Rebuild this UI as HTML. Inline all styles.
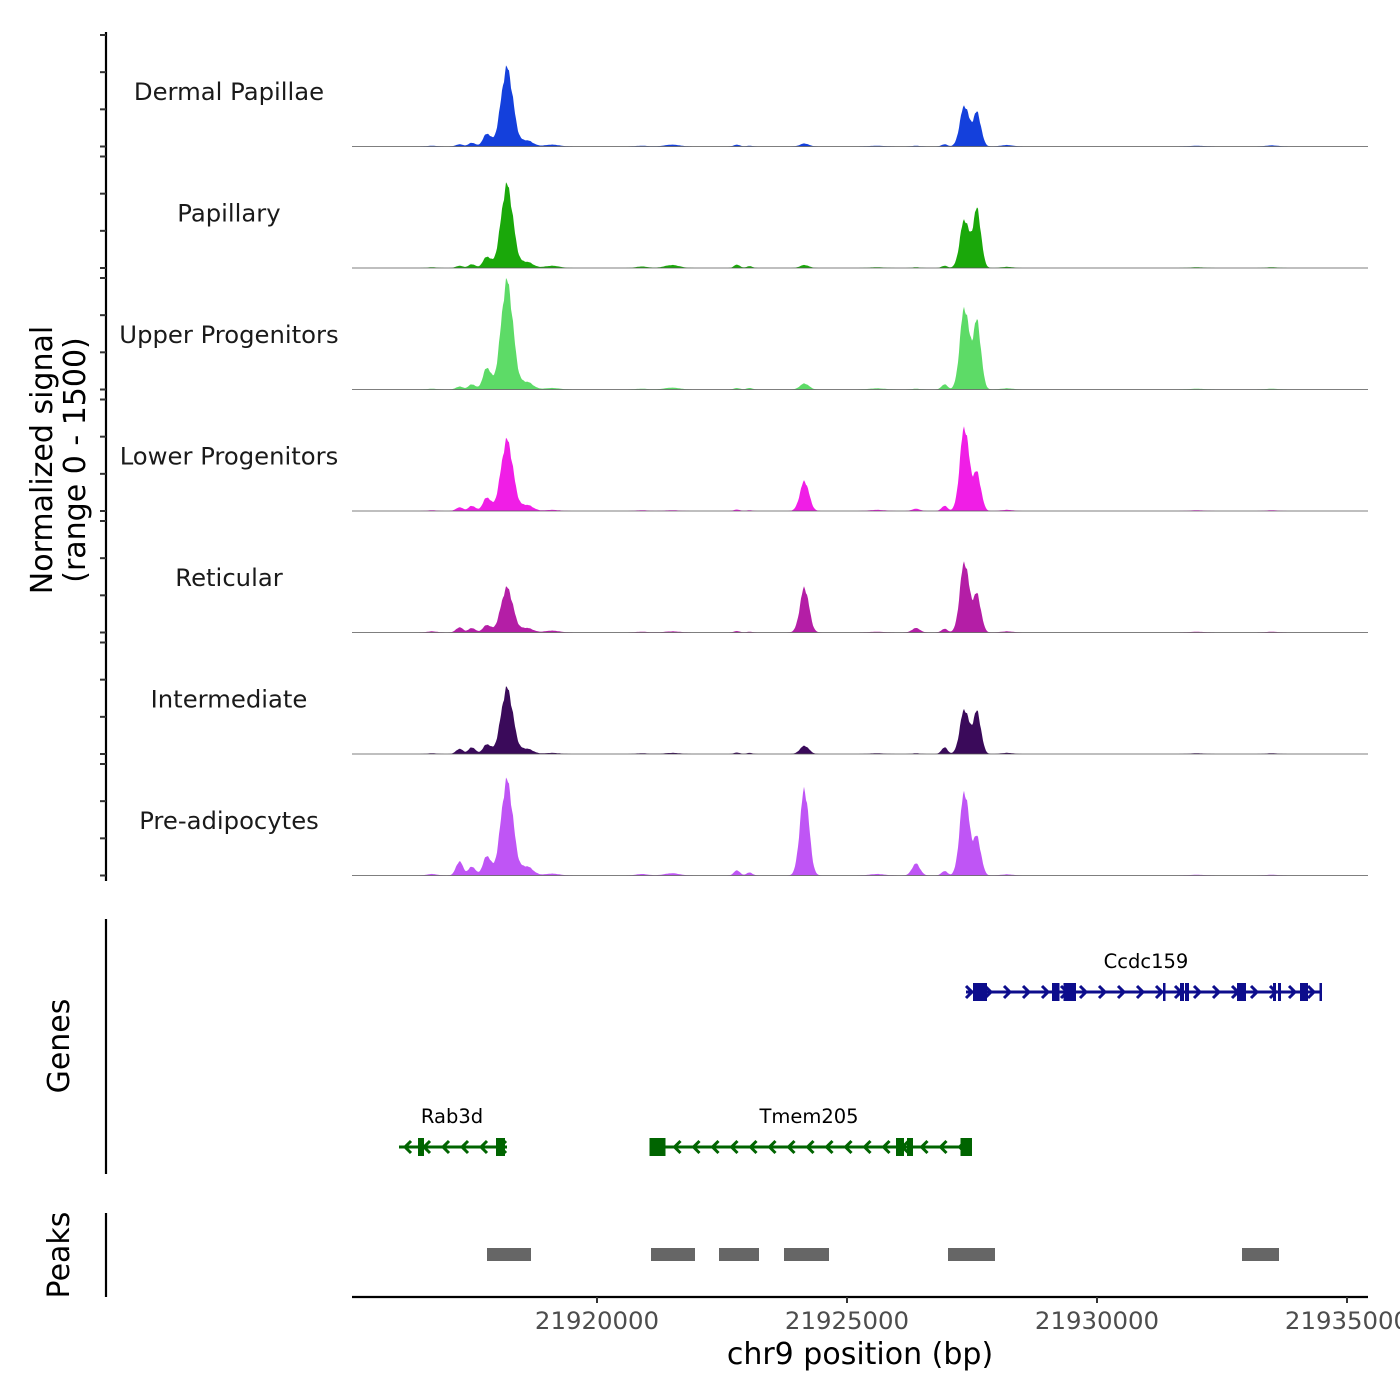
<!DOCTYPE html>
<html><head><meta charset="utf-8">
<style>
html,body{margin:0;padding:0;background:#fff;}
svg{display:block;font-family:"DejaVu Sans","Liberation Sans",sans-serif;}
</style></head>
<body>
<svg id="chart" width="1400" height="1400" viewBox="0 0 1400 1400" xmlns="http://www.w3.org/2000/svg">
<rect width="1400" height="1400" fill="#fff"/>
<g id="tracks"></g>
<g id="leftaxis"></g>
<text transform="translate(52,460) rotate(-90)" text-anchor="middle" font-size="30" fill="#000">Normalized signal</text>
<text transform="translate(85,460) rotate(-90)" text-anchor="middle" font-size="30" fill="#000">(range 0 - 1500)</text>
<g id="genes"></g>
<line x1="106" y1="919" x2="106" y2="1174" stroke="#000" stroke-width="2.2"/>
<text transform="translate(69,1046) rotate(-90)" text-anchor="middle" font-size="30" fill="#000">Genes</text>
<g id="peaks"></g>
<line x1="106" y1="1213" x2="106" y2="1297" stroke="#000" stroke-width="2.2"/>
<text transform="translate(69,1255) rotate(-90)" text-anchor="middle" font-size="30" fill="#000">Peaks</text>
<g id="xaxis"></g>
<text x="860" y="1364" text-anchor="middle" font-size="30" fill="#000">chr9 position (bp)</text>
</svg>
<script>
// ---- data ----
const cellTypes = ["Dermal Papillae","Papillary","Upper Progenitors","Lower Progenitors","Reticular","Intermediate","Pre-adipocytes"];
const colors = ["#1440dc","#1aa80a","#5ddb67","#f01ee6","#b41ea6","#3a0a5a","#bf55f5"];
// peak centres (bp) and widths (bp, sigma)
const peakPos = [21916700,21917250,21917500,21917800,21918200,21918600,21919100,21920900,21921500,21922800,21923050,21924150,21925600,21926380,21926950,21927350,21927600,21928200,21932000,21933500];
const peakWid = [100,70,70,80,120,120,150,120,150,60,60,90,150,80,60,90,80,120,150,120];
const sigDP  = [10,30,50,170,1050,80,25,10,25,25,10,40,10,10,30,550,450,20,10,15];
const sigPap = [10,30,50,150,1110,80,30,20,40,45,25,40,10,10,30,650,780,15,10,10];
const sigUp  = [10,40,70,290,1450,100,20,10,25,20,20,80,15,10,70,1100,900,15,10,10];
const sigLow = [10,50,70,180,950,80,15,10,10,20,10,400,15,30,70,1130,500,15,10,10];
const sigRet = [15,70,60,100,600,60,25,10,15,20,10,600,10,60,50,950,500,15,10,10];
const sigInt = [10,70,90,130,880,70,15,10,15,20,15,110,10,10,90,600,560,15,10,10];
const sigPre = [20,190,120,260,1270,120,25,20,30,70,40,1150,20,160,60,1130,500,15,10,10];
const signals = [sigDP,sigPap,sigUp,sigLow,sigRet,sigInt,sigPre];
const yTicks = [0,500,1000,1500];
const xTicks = [21920000,21925000,21930000,21935000];
const genes = [
 {name:"Ccdc159", start:21927380, end:21934500, strand:1, row:0, labelPos:21930980,
  exons:[[21927520,21927800],[21929100,21929250],[21929330,21929580],[21931320,21931350],[21931660,21931740],[21931760,21931840],[21932800,21932980],[21933520,21933580],[21933620,21933680],[21934060,21934220],[21934450,21934500]]},
 {name:"Tmem205", start:21921050, end:21927500, strand:-1, row:1, labelPos:21924240,
  exons:[[21921050,21921370],[21925980,21926140],[21926200,21926320],[21927270,21927500]]},
 {name:"Rab3d", start:21916040, end:21918200, strand:-1, row:1, labelPos:21917100,
  exons:[[21916420,21916540],[21917980,21918160]]}
];
const peakRegions = [[21917800,21918680],[21921080,21921960],[21922440,21923240],[21923740,21924640],[21927020,21927960],[21932900,21933640]];

// ---- scales ----
const X0=352, X1=1368, BP0=21915100, PXPERBP=0.05;
const xs = bp => X0 + (bp-BP0)*PXPERBP;
const trackTop0 = 35, trackStep = 121.5, trackH = 111.5, YMAX=1500;
const NS="http://www.w3.org/2000/svg";
function mk(tag, attrs, parent){const e=document.createElementNS(NS,tag);for(const k in attrs)e.setAttribute(k,attrs[k]);parent.appendChild(e);return e;}

const tracks=document.getElementById('tracks');
const left=document.getElementById('leftaxis');
mk('line',{x1:106,y1:32,x2:106,y2:881,stroke:'#000','stroke-width':2.2},left);
cellTypes.forEach((ct,i)=>{
  const top=trackTop0+i*trackStep, base=top+trackH;
  const ys=v=>base - Math.min(v,YMAX)/YMAX*trackH;
  const sig=signals[i];
  let d=`M${X0},${base}`;
  for(let px=X0;px<=X1;px+=1){
    const bp=BP0+(px-X0)/PXPERBP;
    let v=0;
    for(let k=0;k<peakPos.length;k++){const z=(bp-peakPos[k])/peakWid[k];v+=sig[k]*Math.exp(-0.5*z*z);}
    v*=1+0.07*Math.sin(px*1.3)*Math.sin(px*0.47);
    d+=`L${px},${ys(v).toFixed(1)}`;
  }
  d+=`L${X1},${base}Z`;
  const p=mk('path',{d:d,fill:colors[i],stroke:'none'},tracks);
  
  
  const bl=mk('line',{x1:X0,y1:base,x2:X1,y2:base,stroke:'#555','stroke-width':0.8},tracks);
  
  
  const t=mk('text',{x:229,y:top+65,'text-anchor':'middle','font-size':24.3,fill:'#1a1a1a'},tracks);
  t.textContent=ct;
  
  
  yTicks.forEach(v=>{
    const tk=mk('line',{x1:100,y1:ys(v),x2:106,y2:ys(v),stroke:'#333','stroke-width':2},left);
    
    
  });
});

// genes
const gg=document.getElementById('genes');
const rowY=[992,1147];
const gcol={1:'#0d0d8c',"-1":'#006400'};
genes.forEach(g=>{
  const y=rowY[g.row], c=gcol[g.strand];
  const grp=mk('g',{},gg);
  
  
  const x1=xs(g.start), x2=xs(g.end);
  mk('line',{x1:x1,y1:y,x2:x2,y2:y,stroke:c,'stroke-width':3},grp);
  for(let x=x1+6;x<=x2-2;x+=19){
    const dx=g.strand>0?-6:6;
    mk('polyline',{points:`${x+dx},${y-6} ${x},${y} ${x+dx},${y+6}`,fill:'none',stroke:c,'stroke-width':3},grp);
  }
  g.exons.forEach(e=>{
    const a=xs(e[0]), b=xs(e[1]);
    mk('rect',{x:a,y:y-9,width:Math.max(b-a,2.5),height:18,fill:c},grp);
  });
  const t=mk('text',{x:xs(g.labelPos),y:y-24,'text-anchor':'middle','font-size':19.5,fill:'#000'},grp);
  t.textContent=g.name;
});

// peaks
const pk=document.getElementById('peaks');
peakRegions.forEach(r=>{
  const rc=mk('rect',{x:xs(r[0]),y:1248,width:xs(r[1])-xs(r[0]),height:13,fill:'#666'},pk);
  
  
});

// x axis
const xa=document.getElementById('xaxis');
mk('line',{x1:X0,y1:1297,x2:X1,y2:1297,stroke:'#000','stroke-width':2.2},xa);
xTicks.forEach(v=>{
  const x=xs(v);
  const tk=mk('line',{x1:x,y1:1297,x2:x,y2:1303,stroke:'#333','stroke-width':2},xa);
  
  
  const t=mk('text',{x:x,y:1329,'text-anchor':'middle','font-size':24.4,fill:'#4d4d4d'},xa);
  t.textContent=String(v);
  
  
});
</script>
</body></html>
